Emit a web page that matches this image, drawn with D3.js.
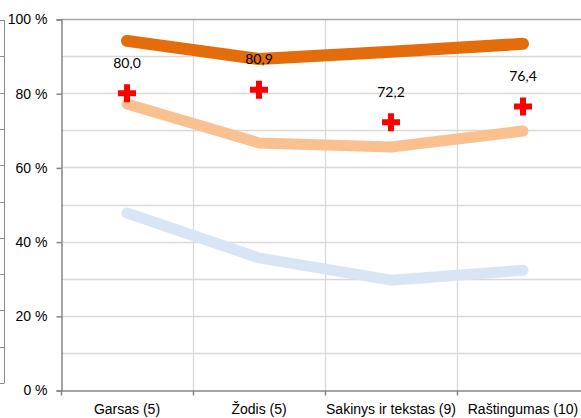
<!DOCTYPE html>
<html>
<head>
<meta charset="utf-8">
<script src="https://cdn.jsdelivr.net/npm/d3@7"></script>
<style>
  body { margin: 0; background: #fff; }
  svg { display: block; font-family: Lato, "Open Sans", sans-serif; }
</style>
</head>
<body>
<svg id="chart"></svg>
<script>
const width = 581;
const height = 418;
const margin = { top: 19, right: -8, bottom: 28, left: 61 };

const categories = ["Garsas (5)", "Žodis (5)", "Sakinys ir tekstas (9)", "Raštingumas (10)"];
const darkOrange = [94.1, 89.2, 91.2, 93.3];
const lightOrange = [77.1, 66.6, 65.5, 69.8];
const lightBlue = [47.7, 35.6, 29.6, 32.3];
const scores = [80.0, 80.9, 72.2, 76.4];
const yTicks = [0, 20, 40, 60, 80, 100];
const yGrid = d3.range(0, 101, 10);

const svg = d3.select("#chart")
    .attr("width", width)
    .attr("height", height);

const x = d3.scaleBand()
    .domain(categories)
    .range([margin.left, width - margin.right])
    .padding(0);

const y = d3.scaleLinear()
    .domain([0, 100])
    .range([height - margin.bottom, margin.top]);

const cx = d => x(d) + x.bandwidth() / 2;

// cut-off axis of the neighbouring chart on the far left
const ghost = d3.scaleLinear().domain([0, 10]).range([383, 20]);
svg.append("line")
    .attr("x1", 4.5).attr("x2", 4.5)
    .attr("y1", ghost(0)).attr("y2", ghost(10))
    .attr("stroke", "#8c8c8c");
d3.range(0, 11).forEach(i => {
    svg.append("line")
        .attr("x1", 0).attr("x2", 4.5)
        .attr("y1", Math.round(ghost(i)) + 0.5).attr("y2", Math.round(ghost(i)) + 0.5)
        .attr("stroke", "#8c8c8c");
});

// gridlines
svg.append("g")
    .selectAll("line")
    .data(yGrid.filter(d => d > 0 && d < 100))
    .join("line")
    .attr("x1", margin.left).attr("x2", width)
    .attr("y1", d => Math.round(y(d)) + 0.5).attr("y2", d => Math.round(y(d)) + 0.5)
    .attr("stroke", "#d9d9d9")
    .attr("stroke-width", 1.3);

svg.append("g")
    .selectAll("line")
    .data(categories.slice(1))
    .join("line")
    .attr("x1", d => Math.round(x(d)) + 0.5).attr("x2", d => Math.round(x(d)) + 0.5)
    .attr("y1", y(100)).attr("y2", y(0))
    .attr("stroke", "#d9d9d9")
    .attr("stroke-width", 1.3);

// top border
svg.append("line")
    .attr("x1", margin.left).attr("x2", width)
    .attr("y1", Math.round(y(100)) + 0.5).attr("y2", Math.round(y(100)) + 0.5)
    .attr("stroke", "#a6a6a6")
    .attr("stroke-width", 1.3);

// axes
const yAxis = svg.append("g")
    .attr("transform", `translate(${margin.left + 0.5}, 0.5)`)
    .call(d3.axisLeft(y).tickValues(yTicks).tickSize(5).tickPadding(9).tickFormat(d => d + " %"));
yAxis.select(".domain").attr("stroke", "#868686").attr("stroke-width", 1.5);
yAxis.selectAll(".tick line").attr("stroke", "#868686").attr("stroke-width", 1.5);
yAxis.selectAll(".tick text").attr("fill", "#000").style("font-size", "14px");

const xAxis = svg.append("g")
    .attr("transform", `translate(0, ${Math.round(y(0)) + 0.5})`)
    .call(d3.axisBottom(x).tickSize(0).tickPadding(14));
xAxis.select(".domain").attr("stroke", "#868686").attr("stroke-width", 1.5);
xAxis.selectAll(".tick text").attr("fill", "#000").style("font-size", "14px");
xAxis.selectAll(".boundary")
    .data(categories)
    .join("line")
    .attr("class", "boundary")
    .attr("x1", d => Math.round(x(d)) + 0.5).attr("x2", d => Math.round(x(d)) + 0.5)
    .attr("y1", 0).attr("y2", 5)
    .attr("stroke", "#868686")
    .attr("stroke-width", 1.5);

// lines
const line = vals => d3.line()
    .x((d, i) => cx(categories[i]))
    .y(d => y(d))(vals);

[
    { vals: lightBlue, color: "#d9e5f5", w: 11 },
    { vals: lightOrange, color: "#fac090", w: 11 },
    { vals: darkOrange, color: "#e46c0a", w: 12 }
].forEach(s => {
    svg.append("path")
        .attr("d", line(s.vals))
        .attr("fill", "none")
        .attr("stroke", s.color)
        .attr("stroke-width", s.w)
        .attr("stroke-linecap", "round")
        .attr("stroke-linejoin", "round");
});

// score markers (crosses)
const crossPath = "M-3,-9H3V-3H9V3H3V9H-3V3H-9V-3H-3Z";
svg.append("g")
    .selectAll("path")
    .data(scores)
    .join("path")
    .attr("transform", (d, i) => `translate(${cx(categories[i])}, ${y(d)})`)
    .attr("d", crossPath)
    .attr("fill", "#ff0000");

svg.append("g")
    .selectAll("text")
    .data(scores)
    .join("text")
    .attr("x", (d, i) => cx(categories[i]))
    .attr("y", d => y(d) - 29)
    .attr("text-anchor", "middle")
    .attr("dominant-baseline", "middle")
    .style("font-size", "14px")
    .text(d => d.toFixed(1).replace(".", ","));
</script>
</body>
</html>
